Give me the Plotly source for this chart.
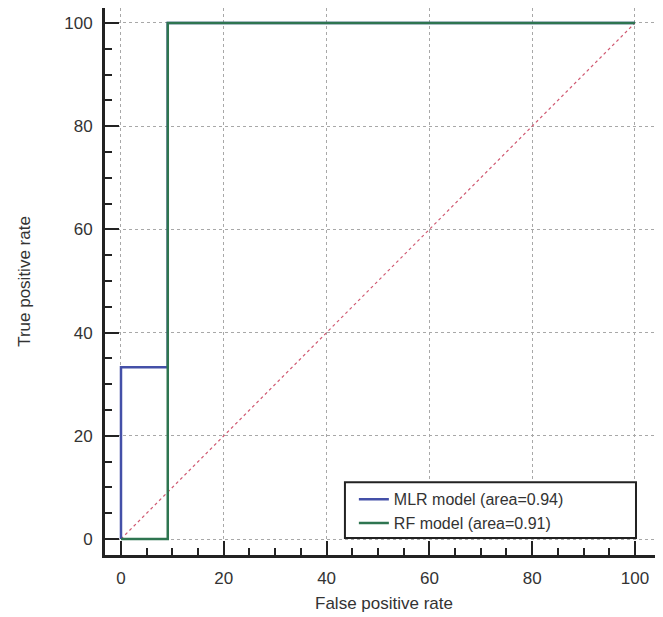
import plotly.graph_objects as go

# Data (percent)
mlr_fpr = [0, 0, 9.1, 9.1, 100]
mlr_tpr = [0, 33.3, 33.3, 100, 100]
rf_fpr = [0, 9.1, 9.1, 100]
rf_tpr = [0, 0, 100, 100]
diag = [0, 100]
mlr_name = "MLR model (area=0.94)"
rf_name = "RF model (area=0.91)"
tick_vals = [0, 20, 40, 60, 80, 100]

FONT = "Liberation Sans, Arial, sans-serif"
FS = 17
TXT = "#333333"

fig = go.Figure()
fig.add_trace(go.Scatter(x=diag, y=diag, mode="lines",
                         line=dict(color="#d05a72", width=1.2, dash="dot"),
                         showlegend=False, hoverinfo="skip"))
fig.add_trace(go.Scatter(x=mlr_fpr, y=mlr_tpr, mode="lines", name=mlr_name,
                         line=dict(color="#4450a8", width=2.5)))
fig.add_trace(go.Scatter(x=rf_fpr, y=rf_tpr, mode="lines", name=rf_name,
                         line=dict(color="#2e7550", width=2.5)))

axis_common = dict(
    showline=True, linecolor="#222222", linewidth=3,
    ticks="inside", ticklen=14, tickwidth=2, tickcolor="#222222",
    tickvals=tick_vals,
    showgrid=True, gridcolor="#a8a8a8", gridwidth=1, griddash="dot",
    zeroline=False,
    tickfont=dict(family=FONT, size=FS, color=TXT),
    minor=dict(dtick=5, tick0=0, ticks="inside", ticklen=7, tickwidth=2,
               tickcolor="#222222", showgrid=False),
)

fig.update_layout(
    width=655, height=609,
    margin=dict(l=97, r=0, t=0, b=62),
    paper_bgcolor="white", plot_bgcolor="white",
    font=dict(family=FONT, size=FS, color=TXT),
    xaxis=dict(range=[-3.11, 105.45],
               title=dict(text="False positive rate", font=dict(family=FONT, size=FS, color=TXT), standoff=10),
               ticklabelstandoff=6, **axis_common),
    yaxis=dict(range=[-3.1, 102.9],
               title=dict(text="True positive rate", font=dict(family=FONT, size=FS, color=TXT), standoff=30),
               ticklabelstandoff=6, **axis_common),
    legend=dict(x=0.446, y=0.080, xanchor="left", yanchor="middle",
                borderwidth=0, bgcolor="rgba(0,0,0,0)",
                font=dict(family=FONT, size=16, color=TXT),
                tracegroupgap=0, itemwidth=30),
    shapes=[dict(type="rect", xref="paper", yref="paper",
                 x0=0.430, x1=0.9516, y0=0.031, y1=0.133,
                 line=dict(color="#222222", width=2), fillcolor="white",
                 layer="above")],
)

fig.write_html("out.html")
